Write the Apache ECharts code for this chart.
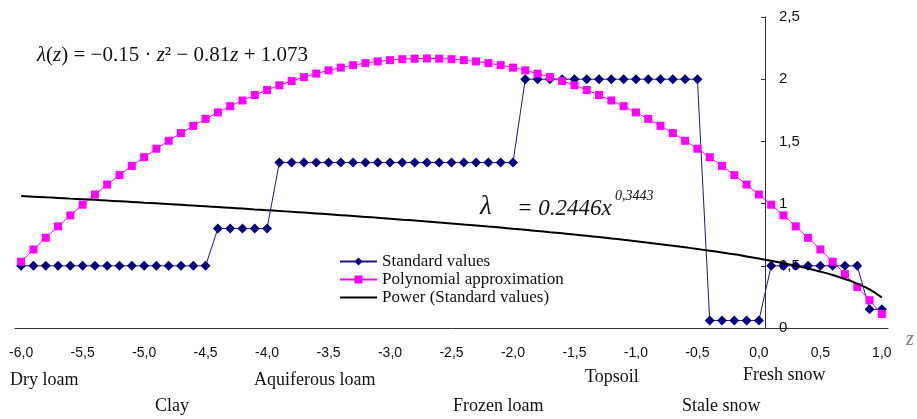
<!DOCTYPE html>
<html>
<head>
<meta charset="utf-8">
<script src="https://cdn.jsdelivr.net/npm/echarts@6/dist/echarts.min.js"></script>
<style>html,body{margin:0;padding:0;background:#fff}#c{width:917px;height:419px}</style>
</head>
<body>
<div id="c"></div>
<script>
var categories = ["-6,0","-5,9","-5,8","-5,7","-5,6","-5,5","-5,4","-5,3","-5,2","-5,1",
"-5,0","-4,9","-4,8","-4,7","-4,6","-4,5","-4,4","-4,3","-4,2","-4,1",
"-4,0","-3,9","-3,8","-3,7","-3,6","-3,5","-3,4","-3,3","-3,2","-3,1",
"-3,0","-2,9","-2,8","-2,7","-2,6","-2,5","-2,4","-2,3","-2,2","-2,1",
"-2,0","-1,9","-1,8","-1,7","-1,6","-1,5","-1,4","-1,3","-1,2","-1,1",
"-1,0","-0,9","-0,8","-0,7","-0,6","-0,5","-0,4","-0,3","-0,2","-0,1",
"0,0","0,1","0,2","0,3","0,4","0,5","0,6","0,7","0,8","0,9","1,0"];

var standardValues = [0.5,0.5,0.5,0.5,0.5,0.5,0.5,0.5,0.5,0.5,0.5,0.5,0.5,0.5,0.5,0.5,
0.8,0.8,0.8,0.8,0.8,
1.33,1.33,1.33,1.33,1.33,1.33,1.33,1.33,1.33,1.33,1.33,1.33,1.33,1.33,1.33,1.33,1.33,1.33,1.33,1.33,
2.0,2.0,2.0,2.0,2.0,2.0,2.0,2.0,2.0,2.0,2.0,2.0,2.0,2.0,2.0,
0.06,0.06,0.06,0.06,0.06,
0.5,0.5,0.5,0.5,0.5,0.5,0.5,0.5,
0.15,0.15];

var polynomialValues = [0.533,0.631,0.725,0.817,0.905,0.991,1.073,1.153,1.229,1.303,
1.373,1.441,1.505,1.567,1.625,1.681,1.733,1.783,1.829,1.873,
1.913,1.951,1.985,2.017,2.045,2.071,2.093,2.113,2.129,2.143,
2.153,2.161,2.165,2.167,2.165,2.161,2.153,2.143,2.129,2.113,
2.093,2.071,2.045,2.017,1.985,1.951,1.913,1.873,1.829,1.783,
1.733,1.681,1.625,1.567,1.505,1.441,1.373,1.303,1.229,1.153,
1.073,0.991,0.905,0.817,0.725,0.631,0.533,0.433,0.329,0.223,0.113];

var powerValues = [1.061,1.056,1.051,1.046,1.040,1.035,1.030,1.024,1.019,1.013,
1.007,1.002,0.996,0.990,0.984,0.978,0.972,0.966,0.960,0.953,
0.947,0.941,0.934,0.928,0.921,0.914,0.907,0.900,0.893,0.886,
0.879,0.871,0.864,0.856,0.848,0.840,0.832,0.824,0.815,0.807,
0.798,0.789,0.780,0.770,0.761,0.751,0.741,0.731,0.720,0.709,
0.698,0.686,0.674,0.662,0.649,0.635,0.621,0.607,0.592,0.575,
0.558,0.540,0.521,0.500,0.478,0.453,0.426,0.394,0.357,0.311,0.245];

var seriesNames = ["Standard values","Polynomial approximation","Power (Standard values)"];

var soilLabels = [
  {text:"Dry loam", x:10, y:381},
  {text:"Clay", x:155, y:407},
  {text:"Aquiferous loam", x:254, y:381},
  {text:"Frozen loam", x:453, y:407},
  {text:"Topsoil", x:585, y:378},
  {text:"Stale snow", x:682, y:407},
  {text:"Fresh snow", x:743, y:376}
];

var chart = echarts.init(document.getElementById('c'));
var serif = '"Liberation Serif", "Times New Roman", serif';
var sans = '"Liberation Sans", Arial, sans-serif';

var graphics = soilLabels.map(function(s){
  return {type:'text', left:s.x, top:s.y - 10, style:{text:s.text, font:'18px ' + serif, fill:'#111'}};
});
graphics.push({type:'text', left:37, top:45, style:{
  rich:{
    n:{fontFamily:serif, fontSize:21, fill:'#111'},
    i:{fontFamily:serif, fontSize:21, fontStyle:'italic', fill:'#111'}
  },
  text:'{i|λ}{n|(}{i|z}{n|) = −0.15 · }{i|z}{n|² − 0.81}{i|z}{n| + 1.073}'
}});
graphics.push({type:'text', left:480, top:193, style:{text:'λ', font:'italic 27px ' + serif, fill:'#111'}});
graphics.push({type:'text', left:517, top:197, style:{text:'= 0.2446x', font:'italic 23px ' + serif, fill:'#111'}});
graphics.push({type:'text', left:615, top:189, style:{text:'0,3443', font:'italic 14px ' + serif, fill:'#111'}});
graphics.push({type:'text', left:906, top:330, style:{text:'z', font:'italic 20px ' + serif, fill:'#777'}});

chart.setOption({
  animation:false,
  backgroundColor:'#fff',
  grid:{left:15, right:29, top:17, bottom:91, containLabel:false},
  legend:{
    orient:'vertical', left:334, top:248,
    itemWidth:37, itemHeight:10, itemGap:1,
    textStyle:{fontFamily:serif, fontSize:17, color:'#111'},
    data:[
      {name:seriesNames[0]},
      {name:seriesNames[1]},
      {name:seriesNames[2], icon:'path://M0,0L37,0L37,2.2L0,2.2Z'}
    ]
  },
  xAxis:{
    type:'category', data:categories, boundaryGap:true,
    axisLine:{lineStyle:{color:'#333', width:1}},
    axisTick:{interval:0, length:5, lineStyle:{color:'#333'}},
    axisLabel:{interval:4, margin:18, fontFamily:sans, fontSize:14, color:'#111'},
    splitLine:{show:false}
  },
  yAxis:{
    type:'value', min:0, max:2.5, interval:0.5, position:'left', offset:-750,
    axisLine:{show:true, lineStyle:{color:'#333', width:1}},
    axisTick:{show:true, inside:false, length:4, lineStyle:{color:'#333'}},
    axisLabel:{inside:true, margin:14, fontFamily:sans, fontSize:15, color:'#111',
      formatter:function(v){return String(v).replace('.', ',');}},
    splitLine:{show:false}
  },
  series:[
    {name:seriesNames[0], type:'line', data:standardValues, symbol:'diamond', symbolSize:10,
      showAllSymbol:true,
      itemStyle:{color:'#000080'}, lineStyle:{color:'#1a1a80', width:1}, z:2},
    {name:seriesNames[1], type:'line', data:polynomialValues, symbol:'rect', symbolSize:8,
      showAllSymbol:true,
      itemStyle:{color:'#ff00ff'}, lineStyle:{color:'#ff00ff', width:1}, z:3},
    {name:seriesNames[2], type:'line', data:powerValues, smooth:true, showSymbol:false, symbol:'none',
      itemStyle:{color:'#000'}, lineStyle:{color:'#000', width:2}, z:4}
  ],
  graphic:graphics
});
</script>
</body>
</html>
